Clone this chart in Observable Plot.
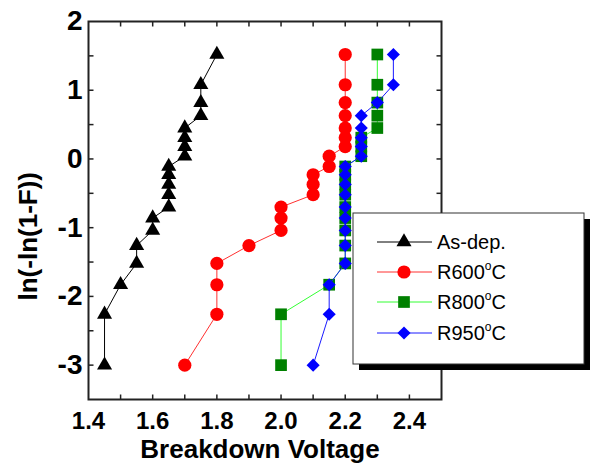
<!DOCTYPE html>
<html><head><meta charset="utf-8">
<script src="https://cdn.jsdelivr.net/npm/d3@7"></script>
<script src="https://cdn.jsdelivr.net/npm/@observablehq/plot@0.6"></script>
<style>
html,body{margin:0;padding:0;background:#fff;}
#wrap{position:relative;width:590px;height:470px;font-family:"Liberation Sans",Arial,sans-serif;}
#legend{position:absolute;left:0;top:0;pointer-events:none;}
</style></head><body><div id="wrap"></div>
<script>
// Weibull plotting positions ln(-ln(1-F)) (shared ranks, 20 samples)
const weibullY = [-3.0,-2.26,-1.83,-1.52,-1.26,-1.04,-0.86,-0.70,-0.52,-0.37,-0.23,-0.11,0.04,0.18,0.31,0.45,0.63,0.82,1.08,1.52];
// Breakdown voltages per series (in rank order)
const asDepV = [1.45,1.45,1.50,1.55,1.55,1.60,1.60,1.65,1.65,1.65,1.65,1.65,1.70,1.70,1.70,1.70,1.75,1.75,1.75,1.80];
const r600V  = [1.70,1.80,1.80,1.80,1.90,2.00,2.00,2.00,2.10,2.10,2.10,2.15,2.15,2.20,2.20,2.20,2.20,2.20,2.20,2.20];
const r800V  = [2.00,2.00,2.15,2.20,2.20,2.20,2.20,2.20,2.20,2.20,2.20,2.20,2.25,2.25,2.25,2.30,2.30,2.30,2.30,2.30];
const r950V  = [2.10,2.15,2.15,2.20,2.20,2.20,2.20,2.20,2.20,2.20,2.20,2.20,2.25,2.25,2.25,2.25,2.25,2.30,2.35,2.35];

const seriesLabels = ["As-dep.", "R600", "R800", "R950"];
const xTickLabels = [1.4,1.6,1.8,2.0,2.2,2.4];
const xTickMarks = [1.5,1.6,1.7,1.8,1.9,2.0,2.1,2.2,2.3,2.4];
const yTickLabels = [-3,-2,-1,0,1,2];
const yTickMarks = [-3,-2.5,-2,-1.5,-1,-0.5,0,0.5,1,1.5];
const xTitle = "Breakdown Voltage";
const yTitle = "ln(-ln(1-F))";

const series = [
  {name: seriesLabels[0], v: asDepV, line: "#000000", fill: "#000000", symbol: "triangle", r: 5.6, legSym: d3.symbolTriangle},
  {name: seriesLabels[1], v: r600V, line: "#ff3030", fill: "#ff0000", symbol: "circle", r: 6.6, legSym: d3.symbolCircle},
  {name: seriesLabels[2], v: r800V, line: "#33ff33", fill: "#008000", symbol: "square", r: 6.6, legSym: d3.symbolSquare},
  {name: seriesLabels[3], v: r950V, line: "#1a1aff", fill: "#0000ff", symbol: "diamond2", r: 5.9, legSym: d3.symbolDiamond2}
];
const rows = s => s.v.map((v, i) => ({v, y: weibullY[i]}));

const X0 = 1.4, X1 = 2.5, Y0 = -3.5, Y1 = 2;
const tickSym = (dx, dy) => ({draw(ctx) { ctx.moveTo(0, 0); ctx.lineTo(dx, dy); }});
const hy = d => d < 0 ? "-" + (-d) : String(d);

const marks = [];
series.forEach(s => {
  marks.push(Plot.line(rows(s), {x: "v", y: "y", stroke: s.line, strokeWidth: 1}));
  marks.push(Plot.dot(rows(s), {x: "v", y: "y", symbol: s.symbol, r: s.r, fill: s.fill, stroke: "none"}));
});

const chart = Plot.plot({
  width: 590, height: 470,
  marginLeft: 88, marginRight: 149, marginTop: 21, marginBottom: 71,
  x: {domain: [X0, X1]},
  y: {domain: [Y0, Y1]},
  style: {fontFamily: "'Liberation Sans', Arial, sans-serif", background: "white", color: "#000"},
  marks: [
    ...marks,
    // inward ticks on all four sides
    Plot.dot(xTickMarks, {x: d => d, y: Y0, symbol: tickSym(0, -5), stroke: "#222", strokeWidth: 1.5, fill: "none"}),
    Plot.dot(xTickMarks, {x: d => d, y: Y1, symbol: tickSym(0, 5), stroke: "#222", strokeWidth: 1.5, fill: "none"}),
    Plot.dot(yTickMarks, {y: d => d, x: X0, symbol: tickSym(5, 0), stroke: "#222", strokeWidth: 1.5, fill: "none"}),
    Plot.dot(yTickMarks, {y: d => d, x: X1, symbol: tickSym(-5, 0), stroke: "#222", strokeWidth: 1.5, fill: "none"}),
    Plot.frame({stroke: "#222", strokeWidth: 2}),
    Plot.axisX(xTickLabels, {tickSize: 0, tickPadding: 12, fontSize: 24, fontWeight: "bold", label: null, tickFormat: d3.format(".1f")}),
    Plot.axisY(yTickLabels, {tickSize: 0, tickPadding: 6, fontSize: 28, fontWeight: "bold", label: null, tickFormat: hy}),
    Plot.text([xTitle], {frameAnchor: "bottom", dy: 58, dx: -5, fontSize: 26, fontWeight: "bold", lineAnchor: "bottom"}),
    Plot.text([yTitle], {frameAnchor: "left", rotate: -90, dx: -60, dy: 90, fontSize: 26, fontWeight: "bold", lineAnchor: "middle"})
  ]
});
const wrap = document.getElementById("wrap");
wrap.appendChild(chart);

// Legend overlay
const lg = d3.select(wrap).append("svg").attr("id", "legend").attr("width", 590).attr("height", 470);
const bx = 353, by = 213, bw = 231, bh = 151;
lg.append("rect").attr("x", bx + 6).attr("y", by + 6).attr("width", bw).attr("height", bh).attr("fill", "#000");
lg.append("rect").attr("x", bx).attr("y", by).attr("width", bw).attr("height", bh).attr("fill", "#fff").attr("stroke", "#333").attr("stroke-width", 1);
const rowY = [242, 272, 302, 333];
series.forEach((s, i) => {
  const g = lg.append("g").attr("transform", `translate(0,${rowY[i]})`);
  g.append("line").attr("x1", 377).attr("x2", 432).attr("y1", 0).attr("y2", 0).attr("stroke", s.line).attr("stroke-width", 1);
  g.append("path").attr("transform", "translate(404,0)").attr("d", d3.symbol(s.legSym, Math.PI * s.r * s.r)()).attr("fill", s.fill);
  const t = g.append("text").attr("x", 437).attr("y", 7).attr("font-size", 20)
    .attr("font-family", "'Liberation Sans', Arial, sans-serif").attr("fill", "#000");
  if (i === 0) t.text(s.name);
  else {
    t.append("tspan").text(s.name);
    t.append("tspan").attr("font-size", 12).attr("dy", -9).text("o");
    t.append("tspan").attr("dy", 9).text("C");
  }
});
</script></body></html>
